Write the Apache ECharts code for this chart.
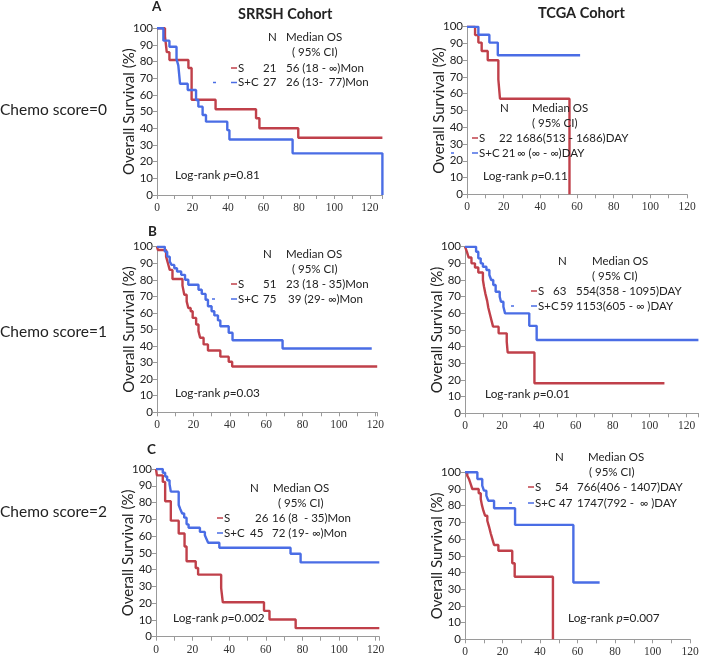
<!DOCTYPE html>
<html><head><meta charset="utf-8">
<script src="https://cdn.jsdelivr.net/npm/echarts@6/dist/echarts.min.js"></script>
<style>html,body{margin:0;padding:0;background:#fff}#c{width:711px;height:659px}</style>
</head><body><div id="c"></div>
<script>
// ---------- DATA ----------
const yTicks = [0,10,20,30,40,50,60,70,80,90,100];
const xTickLabels = [0,20,40,60,80,100,120];

// SRRSH, Chemo score = 0
const tlS_t  = [0,4.5,5.5,7,17.7,19.5,33,55.8,57.7,79.6,127];
const tlS_s  = [100,95.2,85.7,81,76.2,57.1,51.4,46,40,34.3,34.3];
const tlC_t  = [0,3.6,7,11,12,13,17.3,22,23.3,25.7,27.6,39.6,40.8,76.4,127,127];
const tlC_s  = [100,92.6,88.9,81.5,77.8,66.7,63,57,53,48,44,38.9,33.3,25,25,0];
// TCGA, Chemo score = 0
const trS_t  = [0,4.4,6.2,8,11.3,17.1,18,55.9,55.9];
const trS_s  = [100,95,90.5,85.5,80,68.5,57,57,0];
const trC_t  = [0,6.2,12.2,16.8,61.7];
const trC_s  = [100,95.2,90.5,83,83];
// SRRSH, Chemo score = 1
const mlS_t  = [0,0.5,5,6,7,8.5,14,15,16.3,17.2,18.5,19.6,21.5,22.8,23.7,25.6,28,34.8,39.4,41.3,121];
const mlS_s  = [100,98,94,90,86,80.5,76.5,71,67,63,61,57,53,49,45,41,37.3,33.6,30.5,27.7,27.7];
const mlC_t  = [0,4.3,5.6,7,8,9.5,11,13.3,15.4,17.2,22.8,24.6,26.7,28,30,31.5,33.5,34.8,39.4,41.5,69,118];
const mlC_s  = [100,97,94,91,89,87,85,83,80,77,74,71.5,68,64,61,58.5,55.5,52,48,43.5,38.5,38.5];
// TCGA, Chemo score = 1
const mrS_t  = [0,1,2,3.5,5.4,7.2,9.7,10.3,11,12,12.6,13.5,14.4,15.2,18.2,22.6,23.1,37.6,108];
const mrS_s  = [100,97,93.5,90,87.5,84.5,80,76,72,67.5,63.5,59.5,55.5,52,48,43,36.5,18,18];
const mrC_t  = [0,6,7.2,8.5,9.7,11.6,13.2,14.2,15.3,16.6,18.8,19.5,20.8,21.7,34.8,38.8,126.4];
const mrC_s  = [100,97,93,90,88,86,83,80,77,73,70,67,64,60,52.5,44,44];
// SRRSH, Chemo score = 2
const blS_t  = [0,0.5,3.7,5,8.1,12.4,15.6,16.7,21.7,23,35.6,36.5,59,62,76.3,122];
const blS_s  = [100,96.2,92.3,80.8,69.2,61.5,53.8,45,41,37,29,20.5,15.4,10.3,5.1,5.1];
const blC_t  = [0,3.7,5,6.1,7.4,8.1,12.4,13.3,14.3,15.4,16.7,17.8,24,26.7,27.7,28.5,34.6,73.5,79,122];
const blC_s  = [100,97.8,95.5,93.3,91,86.5,78.5,76,73.5,71,67,65,62.5,60.5,58,56,53,49.5,44.3,44.3];
// TCGA, Chemo score = 2
const brS_t  = [0,1.2,2.1,3,3.9,7.3,8.4,9,9.8,10.7,11.9,12.8,13.7,14.6,15.5,17.8,25.2,26.5,46.9,46.9];
const brS_s  = [100,98,96,93,90,87.5,84,80.5,77,74,71,67.5,63.5,60,56.5,53,45.5,37.5,37.5,0];
const brC_t  = [0,6.6,9.2,10.1,11.4,12.4,15.5,26.7,57.8,71.8];
const brC_s  = [100,96,92,89,86,83,78.5,68.5,34,34];

const xMax = [127,120,121,126.5,122,120];

// ---------- LAYOUT ----------
const RED = '#c0404a', BLUE = '#4a6de5', AX = '#9a9a9a', TXT = '#222';
const SANS = 'Lato, "Open Sans", sans-serif';
const SERIF = '"Liberation Serif", "DejaVu Serif", serif';
const grids = [
  {left:157, top:28.3, width:225.4, height:166.7},
  {left:467, top:26.7, width:220,   height:167.6},
  {left:157, top:246.7,width:220.2, height:165.6},
  {left:465, top:246.7,width:233.6, height:166.6},
  {left:156, top:469,  width:223.3, height:167.7},
  {left:465, top:472.3,width:225,   height:167}
];
const zip = (t,s) => t.map((v,i)=>[v,s[i]]);
const curves = [
  [tlS_t,tlS_s,tlC_t,tlC_s],[trS_t,trS_s,trC_t,trC_s],
  [mlS_t,mlS_s,mlC_t,mlC_s],[mrS_t,mrS_s,mrC_t,mrC_s],
  [blS_t,blS_s,blC_t,blC_s],[brS_t,brS_s,brC_t,brC_s]
];

const xAxis = grids.map((g,i)=>({
  type:'value', gridIndex:i, min:0, max:xMax[i], interval:10,
  axisLine:{show:true, onZero:false, lineStyle:{color:AX,width:1}},
  axisTick:{show:true, length:4, lineStyle:{color:AX}},
  splitLine:{show:false},
  axisLabel:{margin:7, fontFamily:SERIF, fontSize:11.5, color:'#333',
    showMaxLabel:true,
    formatter:v=> xTickLabels.indexOf(v)>=0 ? String(v) : ''}
}));
const yAxis = grids.map((g,i)=>({
  type:'value', gridIndex:i, min:yTicks[0], max:yTicks[yTicks.length-1], interval:10,
  name:'Overall Survival (%)', nameLocation:'middle', nameGap:20, nameRotate:90,
  nameMoveOverlap:false,
  nameTextStyle:{fontFamily:SANS, fontSize:15, color:TXT},
  axisLine:{show:true, lineStyle:{color:AX,width:1}},
  axisTick:{show:true, length:4, lineStyle:{color:AX}},
  splitLine:{show:false},
  axisLabel:{margin:4, fontFamily:SANS, fontSize:11.5, color:TXT}
}));
const series = [];
curves.forEach((c,i)=>{
  series.push({type:'line', step:'end', xAxisIndex:i, yAxisIndex:i, data:zip(c[0],c[1]),
    showSymbol:false, symbol:'none', lineStyle:{color:RED,width:2.4}, z:3, silent:true});
  series.push({type:'line', step:'end', xAxisIndex:i, yAxisIndex:i, data:zip(c[2],c[3]),
    showSymbol:false, symbol:'none', lineStyle:{color:BLUE,width:2.4}, z:4, silent:true});
});

// ---------- TEXT ----------
const els = [];
function T(x,y,text,size,opts){
  opts = opts||{};
  els.push({type:'text', x:x, y:y, z:10, style:Object.assign({
    text:text, fill:TXT, textAlign:'left', textVerticalAlign:'middle',
    font:(opts.bold?'bold ':'')+size+'px '+SANS}, opts.style||{})});
}
function D(x1,x2,y,color){
  els.push({type:'line', z:10, shape:{x1:x1,y1:y,x2:x2,y2:y}, style:{stroke:color, lineWidth:1.5}});
}
function LR(x,y,p){
  els.push({type:'text', x:x, y:y, z:10, style:{
    text:'{a|Log-rank }{b|p}{a|='+p+'}', textAlign:'left', textVerticalAlign:'middle',
    rich:{a:{fontFamily:SANS,fontSize:11.8,fill:TXT,color:TXT},
          b:{fontFamily:SANS,fontSize:11.8,fontStyle:'italic',fill:TXT,color:TXT}}}});
}
function LEG(o){
  const fs = 11.5;
  T(o.nx,o.hy,'N',fs); T(o.mx,o.hy,'Median OS',fs); T(o.cx,o.hy+15,'( 95% CI)',fs);
  D(o.dx,o.dx+6,o.r1,RED); T(o.dx+7,o.r1,'S',fs); T(o.n1x,o.r1,o.n1,fs); T(o.v1x,o.r1,o.v1,fs);
  D(o.dx,o.dx+6,o.r2,BLUE); T(o.dx+7,o.r2,'S+C',fs); T(o.n2x,o.r2,o.n2,fs); T(o.v2x,o.r2,o.v2,fs);
  if(o.sx) D(o.sx,o.sx+3,o.r2,BLUE);
}

T(152,7,'A',13.5,{bold:true}); T(148,232,'B',13.5,{bold:true}); T(147,450,'C',13.5,{bold:true});
T(238,14,'SRRSH Cohort',14.5,{bold:true}); T(538,13,'TCGA Cohort',14.5,{bold:true});
T(0,110,'Chemo score=0',15.5); T(0,332,'Chemo score=1',15.5); T(0,512,'Chemo score=2',15.5);

LEG({nx:268,mx:286,cx:292,hy:37,dx:231,r1:68,r2:82.5,n1x:263,n1:'21',v1x:286,v1:'56 (18 - \u221e)Mon',
     n2x:263,n2:'27',v2x:286,v2:'26 (13-  77)Mon',sx:213});
LR(175,175,'0.81');
LEG({nx:500,mx:532,cx:532,hy:108,dx:472,r1:138,r2:153,n1x:499,n1:'22',v1x:516,v1:'1686(513 - 1686)DAY',
     n2x:502,n2:'21',v2x:517,v2:'\u221e (\u221e - \u221e)DAY',sx:451});
LR(483,176,'0.11');
LEG({nx:263,mx:286,cx:292,hy:254,dx:231,r1:284,r2:299,n1x:263,n1:'51',v1x:286,v1:'23 (18 - 35)Mon',
     n2x:263,n2:'75',v2x:288,v2:'39 (29- \u221e)Mon',sx:212});
LR(175,393,'0.03');
LEG({nx:558,mx:592,cx:592,hy:261,dx:531,r1:291,r2:306,n1x:553,n1:'63',v1x:576,v1:'554(358 - 1095)DAY',
     n2x:560,n2:'59',v2x:576,v2:'1153(605 - \u221e )DAY',sx:511});
LR(485,394,'0.01');
LEG({nx:250,mx:273,cx:278,hy:488,dx:217,r1:518,r2:533,n1x:255,n1:'26',v1x:272,v1:'16 (8  - 35)Mon',
     n2x:250,n2:'45',v2x:272,v2:'72 (19- \u221e)Mon'});
LR(173,618,'0.002');
LEG({nx:555,mx:588,cx:589,hy:457,dx:528,r1:487,r2:503,n1x:555,n1:'54',v1x:577,v1:'766(406 - 1407)DAY',
     n2x:559,n2:'47',v2x:577,v2:'1747(792 -  \u221e )DAY',sx:509});
LR(568,618,'0.007');

const chart = echarts.init(document.getElementById('c'), null, {renderer:'canvas'});
chart.setOption({
  animation:false, backgroundColor:'#fff',
  grid:grids, xAxis:xAxis, yAxis:yAxis, series:series,
  graphic:{elements:els}
});
</script></body></html>
